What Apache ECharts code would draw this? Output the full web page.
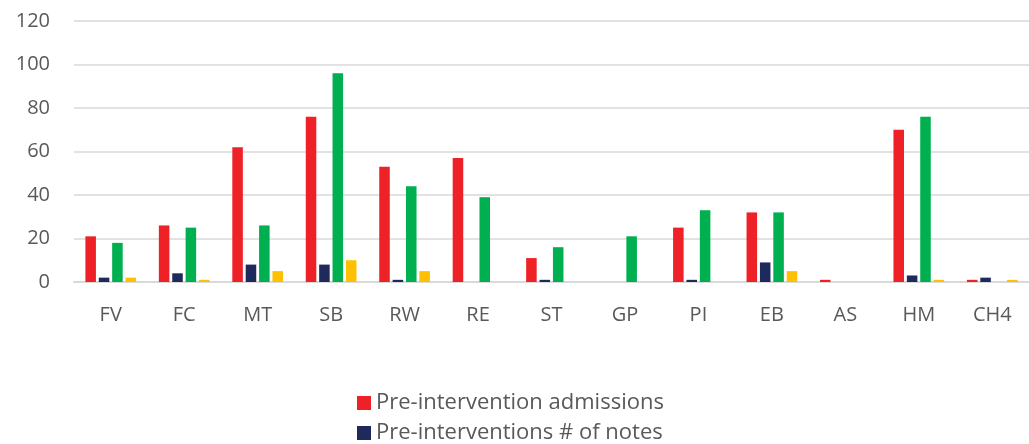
<!DOCTYPE html>
<html>
<head>
<meta charset="utf-8">
<script src="https://cdn.jsdelivr.net/npm/echarts@6/dist/echarts.min.js"></script>
<style>
html,body{margin:0;padding:0;background:#fff;}
#chart{width:1029px;height:444px;}
</style>
</head>
<body>
<div id="chart"></div>
<script>
const categories = ['FV','FC','MT','SB','RW','RE','ST','GP','PI','EB','AS','HM','CH4'];
const seriesNames = ['Pre-intervention admissions','Pre-interventions # of notes','Post-intervention admissions','Post-interventions # of notes'];
const preAdmissions = [21,26,62,76,53,57,11,0,25,32,1,70,1];
const preNotes = [2,4,8,8,1,0,1,0,1,9,0,3,2];
const postAdmissions = [18,25,26,96,44,39,16,21,33,32,0,76,0];
const postNotes = [2,1,5,10,5,0,0,0,0,5,0,1,1];
const yTicks = [0,20,40,60,80,100,120];
const colors = ['#ee2127','#1f2a5c','#00b050','#ffc000'];

const chart = echarts.init(document.getElementById('chart'));
const dataSets = [preAdmissions, preNotes, postAdmissions, postNotes];
chart.setOption({
  animation: false,
  color: colors,
  grid: {left: 74, right: 0, top: 21, bottom: 162, containLabel: false},
  legend: {
    orient: 'vertical',
    left: 352, top: 387, height: 200, width: 400,
    itemWidth: 14, itemHeight: 14, itemGap: 8,
    icon: 'rect',
    data: seriesNames.slice(0,2),
    textStyle: {fontFamily: 'Open Sans', fontSize: 22, color: '#595959'}
  },
  xAxis: {
    type: 'category',
    data: categories,
    axisLine: {lineStyle: {color: '#d9d9d9', width: 2}},
    axisTick: {show: false},
    axisLabel: {fontFamily: 'Open Sans', fontSize: 20, color: '#595959', margin: 23}
  },
  yAxis: {
    type: 'value',
    min: yTicks[0], max: yTicks[yTicks.length-1], interval: 20,
    axisLine: {show: false},
    axisTick: {show: false},
    splitLine: {lineStyle: {color: '#d9d9d9', width: 1.5}},
    axisLabel: {fontFamily: 'Open Sans', fontSize: 20, color: '#595959', margin: 24}
  },
  series: dataSets.map((d, i) => ({
    name: seriesNames[i],
    type: 'bar',
    data: d,
    barGap: '27%',
    barCategoryGap: '31%',
    itemStyle: {color: colors[i]}
  }))
});
</script>
</body>
</html>
